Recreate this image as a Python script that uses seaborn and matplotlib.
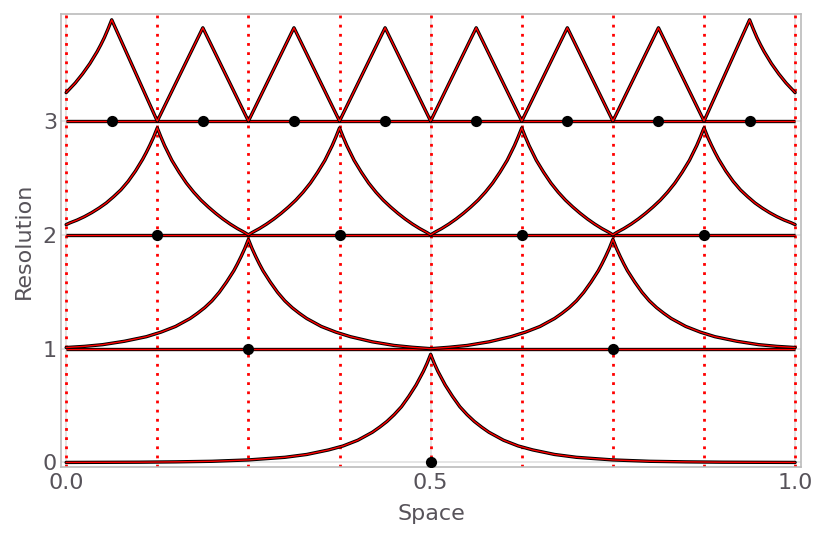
import matplotlib
matplotlib.use("Agg")
import pandas as pd
import seaborn as sns
import matplotlib.pyplot as plt

# centres of the basis functions on each resolution level
centres_0 = [0.5]
centres_1 = [0.25, 0.75]
centres_2 = [0.125, 0.375, 0.625, 0.875]
centres_3 = [0.0625, 0.1875, 0.3125, 0.4375, 0.5625, 0.6875, 0.8125, 0.9375]

# cell boundaries (red dotted lines)
boundaries = [0.0, 0.125, 0.25, 0.375, 0.5, 0.625, 0.75, 0.875, 1.0]
baselines = [1, 2, 3]

# half profiles: distance from the centre -> height above the level
d0 = [0, .005, .01, .015, .02, .03, .04, .05, .06, .07, .08, .1, .12, .14, .17, .2, .25, .3, .35, .4, .5]
outer0 = [.95, .87, .80, .74, .68, .58, .49, .42, .36, .31, .265, .195, .145, .11, .07, .045,
          .022, .01, .005, .002, 0]

d1 = [0, .005, .01, .015, .02, .03, .04, .05, .06, .07, .08, .1, .12, .14, .17, .2, .225, .25]
outer1 = [.96, .88, .81, .745, .685, .585, .495, .42, .36, .31, .265, .195, .145, .105, .065,
          .035, .02, .01]
inner1 = [.96, .88, .81, .745, .685, .585, .495, .42, .36, .31, .265, .195, .145, .105, .06,
          .028, .012, 0]

d2 = [0, .005, .01, .015, .02, .03, .04, .05, .06, .07, .08, .09, .1, .11, .12, .125]
outer2 = [.94, .86, .79, .725, .665, .56, .47, .395, .335, .28, .235, .195, .16, .13, .105, .09]
inner2 = [.94, .86, .785, .72, .655, .55, .455, .375, .305, .245, .19, .14, .095, .055, .02, 0]

d3 = [0, .005, .01, .015, .02, .03, .04, .05, .0625]
outer3 = [.89, .81, .735, .67, .61, .505, .415, .335, .25]
inner3 = [.89, .819, .748, .676, .605, .463, .32, .178, 0]
mid3 = [.82, .754, .689, .623, .558, .426, .295, .164, 0]


def level_curve(level, cs, d, outer, inner, inner_mid=None):
    xs, ys = [], []
    for i, c in enumerate(cs):
        edge = i == 0 or i == len(cs) - 1
        side_in = inner if (edge or inner_mid is None) else inner_mid
        left = outer if i == 0 else side_in
        right = outer if i == len(cs) - 1 else side_in
        xs += [c - v for v in d[::-1]] + [c + v for v in d[1:]]
        ys += [level + v for v in left[::-1]] + [level + v for v in right[1:]]
    return xs, ys


frames = []
for lev, cs, d, out, inn, mid in [(0, centres_0, d0, outer0, outer0, None),
                                  (1, centres_1, d1, outer1, inner1, None),
                                  (2, centres_2, d2, outer2, inner2, None),
                                  (3, centres_3, d3, outer3, inner3, mid3)]:
    xs, ys = level_curve(lev, cs, d, out, inn, mid)
    frames.append(pd.DataFrame({"Space": xs, "Resolution": ys, "level": lev}))
curves = pd.concat(frames, ignore_index=True)

dots = pd.DataFrame({
    "Space": centres_0 + centres_1 + centres_2 + centres_3,
    "Resolution": [0] * 1 + [1] * 2 + [2] * 4 + [3] * 8,
})

sns.set_theme(style="whitegrid")
plt.rcParams["font.family"] = ["DejaVu Sans"]
txt = "#57535a"

fig = plt.figure(figsize=(8.14, 5.43), dpi=100)
ax = fig.add_axes([0.075, 0.14, 0.909, 0.834])

for b in boundaries:
    ax.axvline(b, color="red", lw=2.0, linestyle=(0, (1, 2.3)), zorder=1.5)

ax.hlines(baselines, 0, 1, colors="black", lw=2.4, zorder=2)
ax.hlines(baselines, 0, 1, colors="red", lw=1.0, zorder=2.1)

sns.lineplot(data=curves, x="Space", y="Resolution", units="level", estimator=None,
             sort=False, color="black", lw=2.4, ax=ax, zorder=3)
sns.lineplot(data=curves, x="Space", y="Resolution", units="level", estimator=None,
             sort=False, color="red", lw=1.0, ax=ax, zorder=3.1)

sns.scatterplot(data=dots, x="Space", y="Resolution", color="black", s=65,
                linewidth=0, ax=ax, zorder=5)

ax.set_xlim(-0.007, 1.008)
ax.set_ylim(-0.04, 3.94)
ax.set_xticks([0, 0.5, 1.0])
ax.set_xticklabels(["0.0", "0.5", "1.0"])
ax.set_yticks([0, 1, 2, 3])
ax.tick_params(length=0, labelsize=16, labelcolor=txt)
ax.tick_params(axis="x", pad=4)
ax.tick_params(axis="y", pad=3)
ax.set_xlabel("Space", fontsize=16, color=txt, labelpad=8)
ax.set_ylabel("Resolution", fontsize=16, color=txt, labelpad=6)
ax.grid(color="#e0e0e0", lw=1.2)
for s in ax.spines.values():
    s.set_color("#bbbbbb")
    s.set_linewidth(1.2)

fig.savefig("out.png", dpi=100)
